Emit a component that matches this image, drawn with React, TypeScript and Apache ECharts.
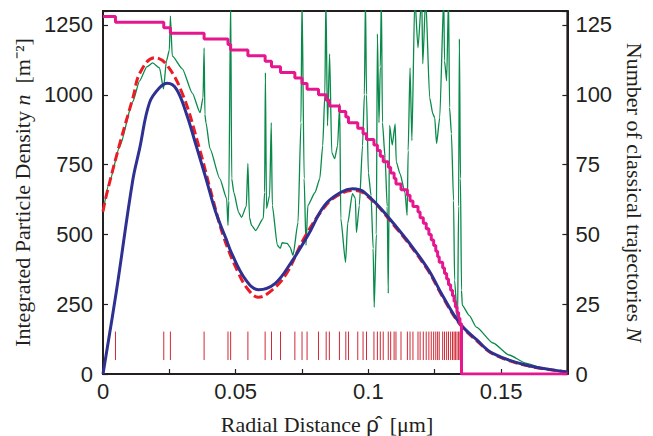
import React, { useEffect, useRef } from "react";
import * as echarts from "echarts";

// Blue solid curve (quantum density), left axis
const blueCurve: [number, number][] = [
  [0, 0], [0.0051, 300], [0.0112, 693], [0.0138, 807], [0.0175, 971], [0.0213, 1025],
  [0.0243, 1041], [0.0276, 1021], [0.0313, 936], [0.0351, 818], [0.0388, 700],
  [0.0425, 579], [0.0463, 486], [0.0485, 432], [0.0536, 340], [0.0586, 302],
  [0.0648, 324], [0.0710, 401], [0.0772, 496], [0.0835, 604], [0.0897, 651],
  [0.0940, 663], [0.0984, 651], [0.1096, 538], [0.1220, 383], [0.1280, 280],
  [0.1345, 181], [0.1410, 121], [0.1469, 74], [0.1593, 32], [0.1743, 8], [0.175, 7],
];

// Red dashed curve, left axis
const redCurve: [number, number][] = [
  [0, 582], [0.0014, 645], [0.0063, 824], [0.0113, 990], [0.0140, 1080], [0.0194, 1133],
  [0.0238, 1110], [0.0300, 1002], [0.0362, 812], [0.0412, 633], [0.0455, 490],
  [0.0511, 360], [0.0549, 300], [0.0586, 275], [0.0623, 290], [0.0685, 350],
  [0.0760, 490], [0.0835, 598], [0.0884, 639], [0.0940, 657], [0.0984, 647],
  [0.1096, 533], [0.1220, 378], [0.1280, 276], [0.1345, 178], [0.1410, 118],
  [0.1469, 72], [0.1593, 31], [0.1743, 7], [0.175, 6],
];

// Green thin curve (semiclassical), left axis
const greenCurve: [number, number][] = [
  [0, 580], [0.0025, 690], [0.0063, 815], [0.0112, 975], [0.0138, 1050], [0.0165, 1100],
  [0.0187, 1114], [0.0213, 1096], [0.0228, 1021], [0.0239, 1121], [0.0250, 1160],
  [0.0254, 1282], [0.0261, 1139], [0.0299, 1093], [0.0336, 1007], [0.0366, 936],
  [0.0377, 990], [0.0381, 1168], [0.0384, 930], [0.0388, 900], [0.0403, 807],
  [0.0440, 700], [0.0466, 629], [0.0471, 532], [0.0474, 620], [0.0481, 1350],
  [0.0485, 700], [0.0493, 650], [0.0511, 579], [0.0522, 561], [0.0540, 600],
  [0.0546, 754], [0.0552, 560], [0.0560, 532], [0.0575, 514], [0.0604, 557],
  [0.0609, 650], [0.0612, 1079], [0.0616, 593], [0.0628, 640], [0.0634, 900],
  [0.0638, 604], [0.0657, 461], [0.0668, 450], [0.0675, 470], [0.0694, 468],
  [0.0705, 454], [0.0716, 425], [0.0735, 543], [0.0746, 900], [0.0750, 1350],
  [0.0758, 700], [0.0765, 461], [0.0772, 604], [0.0799, 650], [0.0817, 700],
  [0.0828, 818], [0.0836, 1000], [0.0840, 1350], [0.0846, 889], [0.0854, 1146],
  [0.0862, 793], [0.0873, 771], [0.0884, 818], [0.0892, 968], [0.0896, 557],
  [0.0914, 400], [0.0922, 539], [0.0940, 646], [0.0951, 629], [0.0955, 507],
  [0.0966, 604], [0.0978, 818], [0.0985, 1000], [0.0989, 1350], [0.0993, 1000],
  [0.1000, 720], [0.1010, 640], [0.1018, 450], [0.1022, 239], [0.1030, 500],
  [0.1034, 1218], [0.1040, 900], [0.1045, 1100], [0.1049, 1350], [0.1053, 900],
  [0.1063, 775], [0.1071, 600], [0.1075, 289], [0.1080, 890], [0.1090, 820],
  [0.1101, 896], [0.1105, 760], [0.1119, 718], [0.1138, 650], [0.1146, 568],
  [0.1150, 800], [0.1157, 1096], [0.1164, 836], [0.1175, 1350], [0.1187, 1168],
  [0.1201, 1350], [0.1205, 1111], [0.1216, 1350], [0.1231, 989], [0.1243, 932],
  [0.1250, 918], [0.1257, 825], [0.1269, 918], [0.1284, 1350], [0.1287, 1121],
  [0.1295, 1050], [0.1302, 1350], [0.1306, 954], [0.1313, 861], [0.1321, 621],
  [0.1325, 336], [0.1336, 182], [0.1340, 600], [0.1343, 1200], [0.1347, 700],
  [0.1351, 300], [0.1354, 246], [0.1380, 210], [0.1407, 168], [0.1470, 111],
  [0.1530, 68], [0.1593, 39], [0.1657, 21], [0.1743, 7], [0.175, 6],
];

// Turning points of classical trajectories (short red marks)
const turningPoints: number[] = [
  0.0047, 0.0229, 0.0254, 0.0381, 0.0471, 0.0481, 0.0546, 0.0611, 0.0635, 0.0669,
  0.0723, 0.0750, 0.0769, 0.0812, 0.0841, 0.0853,
  0.0891, 0.0915, 0.0925, 0.0960, 0.0980, 0.0993, 0.1021, 0.1034, 0.1045,
  0.1056, 0.1075, 0.1084, 0.1097, 0.1104, 0.1123, 0.1147, 0.1157, 0.1168, 0.1187,
  0.1195, 0.1207, 0.1218, 0.1228, 0.1237, 0.1246, 0.1254, 0.1261, 0.1267, 0.1280,
  0.1287, 0.1295, 0.1302, 0.1310, 0.1317, 0.1323, 0.1328, 0.1334, 0.1340, 0.1345,
];

// Number of classical trajectories (step line, right axis)
const stepX: number[] = [0, ...turningPoints, 0.1351, 0.175];
const stepN: number[] = [
  128, 126, 124, 122, 120, 118, 116, 114, 112, 110, 108, 106, 104, 102, 100, 98,
  96, 94, 92, 90, 88, 86, 84, 82, 80, 78, 76, 74, 72, 70, 68, 66, 64, 62, 60, 58,
  56, 54, 52, 50, 48, 46, 44, 42, 40, 38, 36, 34, 32, 30, 28, 26, 24, 22, 20, 18,
  0, 0,
];

const xTicksShown = [0, 0.05, 0.1, 0.15];

export default function App() {
  const ref = useRef<HTMLDivElement>(null);
  useEffect(() => {
    if (!ref.current) return;
    const chart = echarts.init(ref.current, undefined, { renderer: "svg" });
    const axisColor = "#231f20";
    const serif = "'Liberation Serif', 'Times New Roman', serif";
    const sans = "'Liberation Sans', Arial, sans-serif";
    const labelFont = { fontFamily: sans, fontSize: 22, color: "#231f20" };
    const nameFont = { fontFamily: serif, fontSize: 22, color: "#231f20" };
    chart.setOption({
      animation: false,
      backgroundColor: "#ffffff",
      grid: {
        left: 103, right: 81, top: 11, bottom: 62,
        show: true, borderColor: axisColor, borderWidth: 2, backgroundColor: "transparent",
      },
      graphic: [
        {
          type: "text",
          x: 327,
          y: 424,
          style: {
            text: "{a|Radial Distance }{r|ρ̂}{a|  [μm]}",
            rich: {
              a: { fontFamily: serif, fontSize: 22, fill: "#231f20" },
              r: { fontFamily: sans, fontSize: 22, fill: "#231f20" },
            },
            align: "center",
            verticalAlign: "middle",
          },
        },
      ],
      xAxis: {
        type: "value", min: 0, max: 0.175, interval: 0.025,
        axisLine: { show: true, lineStyle: { color: axisColor, width: 2 } },
        axisTick: { inside: true, length: 5, lineStyle: { color: axisColor, width: 1.2 } },
        splitLine: { show: false },
        axisLabel: {
          ...labelFont, margin: 6,
          formatter: (v: number) => {
            const m = xTicksShown.find((t) => Math.abs(t - v) < 1e-6);
            return m === undefined ? "" : String(m);
          },
        },
      },
      yAxis: [
        {
          type: "value", min: 0, max: 1300, interval: 250, position: "left",
          name: "Integrated Particle Density {i|n}  [m⁻²]",
          nameLocation: "middle", nameGap: 66, nameRotate: 90,
          nameTextStyle: { ...nameFont, rich: { i: { ...nameFont, fontStyle: "italic" } } },
          axisLine: { show: true, lineStyle: { color: axisColor, width: 2 } },
          axisTick: { inside: true, length: 5, lineStyle: { color: axisColor, width: 1.2 } },
          splitLine: { show: false },
          axisLabel: { ...labelFont, margin: 10, formatter: (v: number) => (v > 1250 ? "" : String(v)) },
        },
        {
          type: "value", min: 0, max: 130, interval: 25, position: "right",
          name: "Number of classical trajectories {i|N}",
          nameLocation: "middle", nameGap: 54, nameRotate: -90,
          nameTextStyle: { ...nameFont, rich: { i: { ...nameFont, fontStyle: "italic" } } },
          axisLine: { show: true, lineStyle: { color: axisColor, width: 2 } },
          axisTick: { inside: true, length: 5, lineStyle: { color: axisColor, width: 1.2 } },
          splitLine: { show: false },
          axisLabel: { ...labelFont, margin: 8, formatter: (v: number) => (v > 125 ? "" : String(v)) },
        },
      ],
      series: [
        {
          type: "custom",
          yAxisIndex: 0,
          data: turningPoints.map((x) => [x]),
          encode: { x: 0 },
          renderItem: (_params: any, api: any) => {
            const x = api.value(0);
            const p1 = api.coord([x, 50]);
            const p2 = api.coord([x, 152]);
            return {
              type: "line",
              shape: { x1: p1[0], y1: p1[1], x2: p2[0], y2: p2[1] },
              style: { stroke: "#cf2a36", lineWidth: 1 },
            };
          },
          z: 1,
        },
        {
          type: "line", yAxisIndex: 0, data: greenCurve, showSymbol: false,
          smooth: 0.2, smoothMonotone: "x",
          lineStyle: { color: "#0a8a4a", width: 1.3 }, z: 2,
        },
        {
          type: "line", yAxisIndex: 0, data: redCurve, showSymbol: false, smooth: 0.4,
          lineStyle: { color: "#ec1c24", width: 3, type: [9, 4] }, z: 3,
        },
        {
          type: "line", yAxisIndex: 0, data: blueCurve, showSymbol: false, smooth: 0.4,
          lineStyle: { color: "#2e3192", width: 3 }, z: 4,
        },
        {
          type: "line", yAxisIndex: 1, step: "end",
          data: stepX.map((x, i) => [x, stepN[i]]), showSymbol: false,
          lineStyle: { color: "#e6168e", width: 3 }, z: 5,
        },
      ],
    });
    return () => chart.dispose();
  }, []);
  return (
    <div
      ref={ref}
      style={{ position: "fixed", left: 0, top: 0, width: 653, height: 436, background: "#fff" }}
    />
  );
}
